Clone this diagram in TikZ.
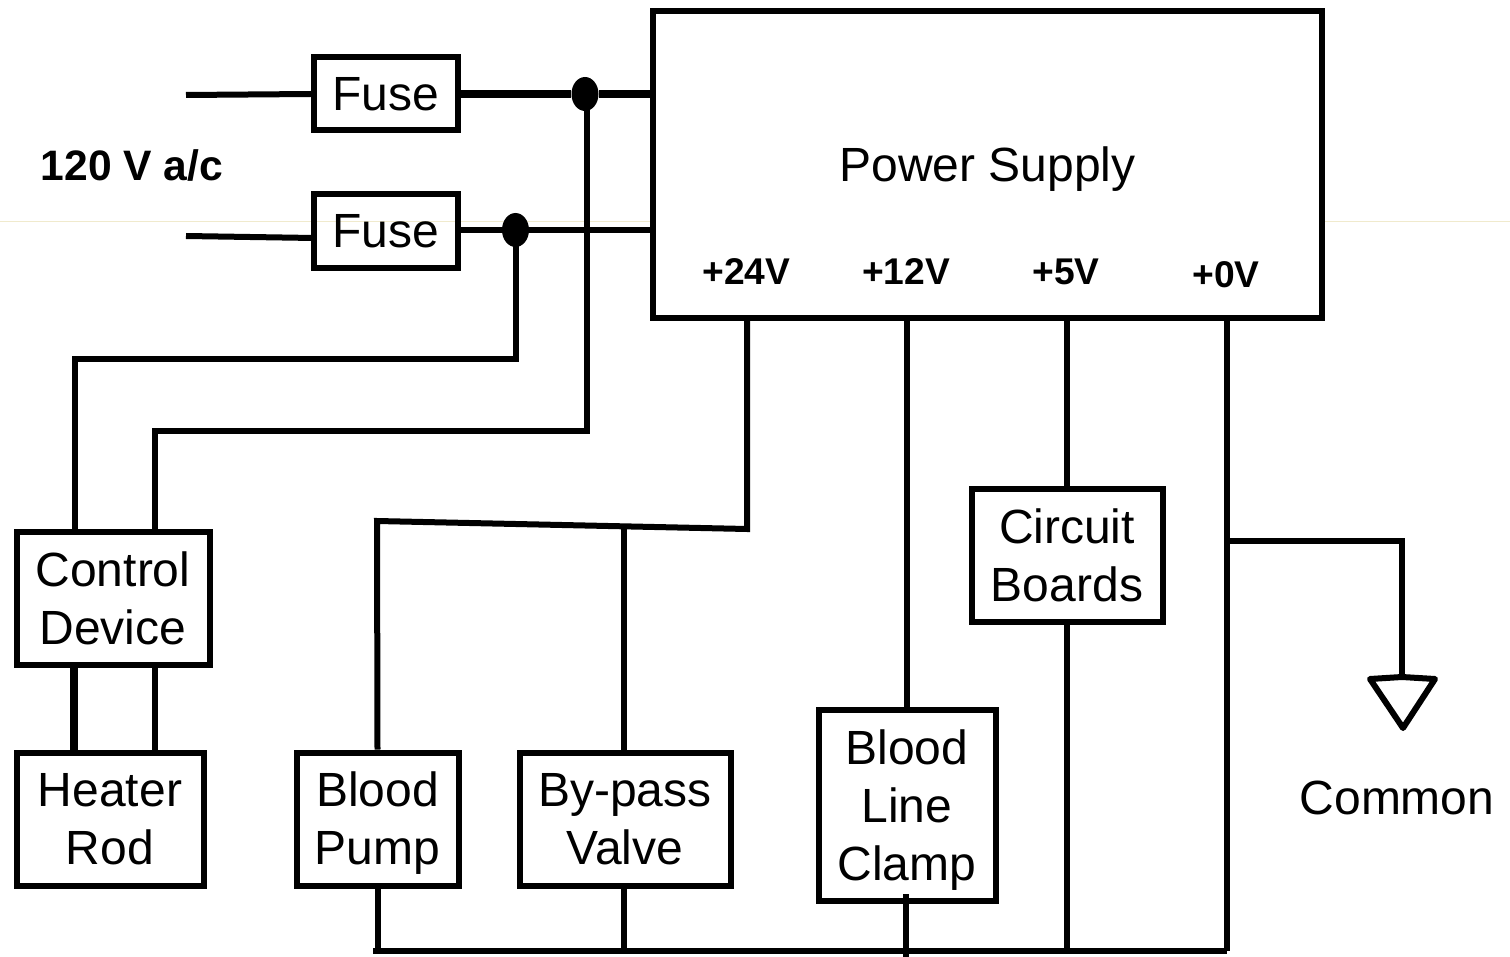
\documentclass[tikz,border=0pt]{standalone}
\usepackage{fontspec}
\setmainfont{Liberation Sans}
\definecolor{faint}{RGB}{240,234,205}
\tikzset{
    unit/.style = {draw, line width = 3pt, align = center, inner sep = 0pt, font = \fontsize{24}{29}\selectfont},
    wire/.style = {line width = 3pt},
    heavy/.style = {line width = 3.6pt},
    volt/.style = {font = \fontsize{18.6}{22}\selectfont\bfseries, inner sep = 0pt},
    joint/.style = {fill, ellipse, minimum width = 13.5pt, minimum height = 17pt, inner sep = 0pt}
}
\usetikzlibrary{shapes.geometric}
\begin{document}
\begin{tikzpicture}[x = 0.5pt, y = -0.5pt]
    \useasboundingbox (0, 0) rectangle (1510, 957);
    \draw[color = faint, line width = 0.5pt] (0, 222) -- (1510, 222);
    \node[unit, fill = white, text depth = 1pt, minimum width = 334.5pt, minimum height = 153.5pt] (power) at (987.5, 165) {Power Supply};
    \node[unit, minimum width = 72pt, minimum height = 36.5pt] (fusea) at (386, 94) {Fuse};
    \node[unit, minimum width = 72pt, minimum height = 37pt] (fuseb) at (386, 231.5) {Fuse};
    \node[unit, minimum width = 96.5pt, minimum height = 66.5pt] (control) at (113, 598) {Control\\Device};
    \node[unit, minimum width = 93.5pt, minimum height = 66.5pt] (heater) at (110, 819) {Heater\\Rod};
    \node[unit, text depth = 1pt, minimum width = 81pt, minimum height = 66.5pt] (pump) at (377.5, 819) {Blood\\Pump};
    \node[unit, minimum width = 105.5pt, minimum height = 66.5pt] (valve) at (625, 819) {By-pass\\Valve};
    \node[unit, text depth = 0pt, minimum width = 88.5pt, minimum height = 95.5pt] (clamp) at (907, 805) {Blood\\Line\\Clamp};
    \node[unit, minimum width = 95.5pt, minimum height = 66.5pt] (boards) at (1067, 555) {Circuit\\Boards};
    \node[font = \fontsize{21.3}{25}\selectfont\bfseries, inner sep = 0pt] (mains) at (132, 165) {120 V a/c};
    \node[volt] (vb) at (746.5, 272) {+24V};
    \node[volt] (vc) at (906, 272) {+12V};
    \node[volt] (vd) at (1066, 272) {+5V};
    \node[volt] (ve) at (1226, 275) {+0V};
    \node[font = \fontsize{24}{29}\selectfont, inner sep = 0pt] (common) at (1397, 798) {Common};
    \node[joint] (dota) at (585, 94) {};
    \node[joint] (dotb) at (515.5, 230) {};
    % mains side
    \coordinate (ina) at (186, 95);
    \coordinate (inb) at (186, 236);
    \coordinate (inc) at (314, 238);
    \draw[wire] (ina) -- (fusea.west);
    \draw[wire] (inb) -- (inc);
    \draw[heavy] (fusea.east) -- (dota) -- (power.west |- dota);
    \draw[wire] (fuseb.east |- dotb) -- (dotb) -- (power.west |- dotb);
    \draw[wire] (dotb.center) -- (515.5, 358.5) -- (75, 358.5) -- (75, 530);
    \draw[wire] (587, 94) -- (587, 431) -- (155, 431) -- (155, 530);
    \draw[heavy] (74, 666) -- (74, 751);
    \draw[wire] (155, 666) -- (155, 751);
    % rails
    \coordinate (railb) at (747, 320);
    \coordinate (railc) at (907, 320);
    \coordinate (raild) at (1067, 320);
    \coordinate (raile) at (1227, 320);
    \coordinate (bus) at (1227, 951);
    \draw[wire] (railb) -- (747, 529) -- (377, 521) -- (pump.north);
    \draw[wire] (624, 525) -- (624, 751);
    \draw[wire] (railc) -- (clamp.north);
    \draw[wire] (raild) -- (boards.north);
    \draw[wire] (raile) -- (bus);
    \draw[wire] (373, 951) -- (bus);
    \draw[wire] (pump.south) -- (pump.south |- bus);
    \draw[wire] (624, 887) -- (624, 951);
    \draw[wire] (906, 894) -- (906, 957);
    \draw[wire] (boards.south) -- (boards.south |- bus);
    % ground
    \coordinate (gnd) at (1402, 677);
    \draw[wire] (1227, 541) -- (1402, 541) -- (gnd);
    \draw[line width = 3pt, line join = round] (gnd) -- (1435, 679) -- (1403, 728) -- (1370, 679) -- cycle;
\end{tikzpicture}
\end{document}
